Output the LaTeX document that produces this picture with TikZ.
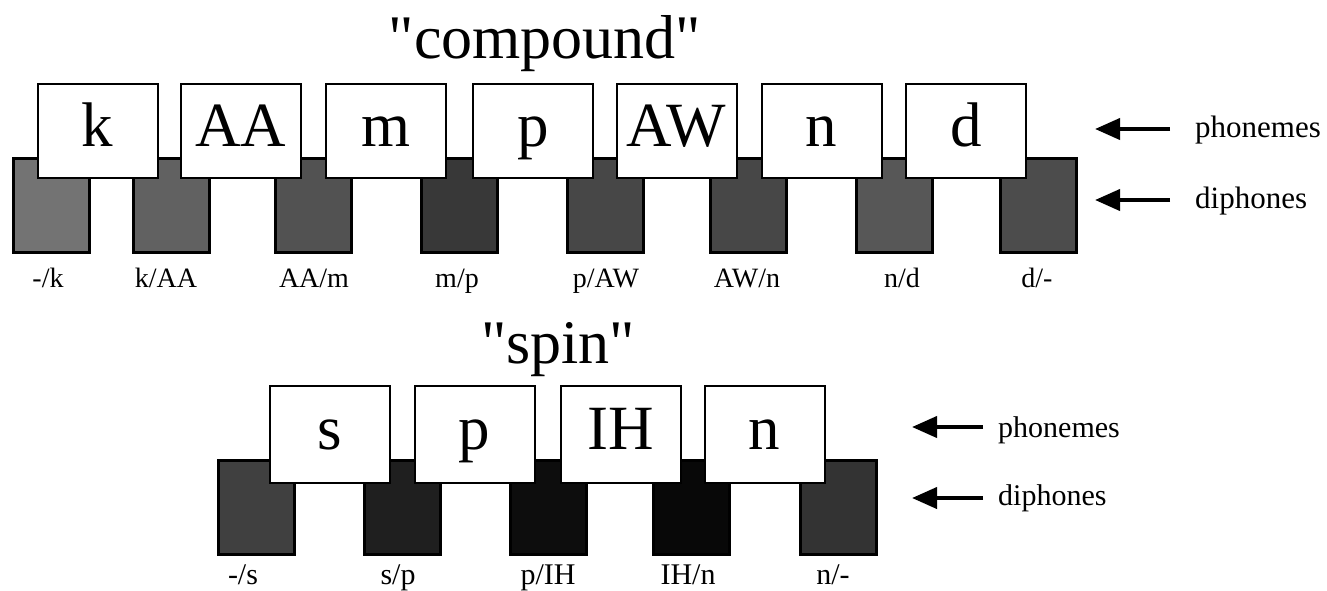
\documentclass[tikz,border=0pt]{standalone}
\usepackage{fontspec}
\setmainfont{Liberation Serif}[Ligatures=TeXOff]
\usetikzlibrary{arrows.meta}
\tikzset{
  phon/.style={draw=black, line width=2pt, fill=white, minimum width=120pt, minimum height=94pt,
    inner sep=0pt, font=\fontsize{63}{63}\selectfont, text height=43pt, text depth=12pt},
  diph/.style={draw=black, line width=3pt, minimum width=76pt, minimum height=94pt,
    inner sep=0pt, anchor=north west},
  title/.style={font=\fontsize{62}{62}\selectfont, anchor=base, inner sep=0pt},
  labtop/.style={font=\fontsize{28}{28}\selectfont, anchor=base, inner sep=0pt},
  labbot/.style={font=\fontsize{30}{30}\selectfont, anchor=base, inner sep=0pt},
  side/.style={font=\fontsize{31}{31}\selectfont, anchor=base west, inner sep=0pt},
  arr/.style={line width=4pt, -{Triangle[length=25pt,width=21pt]}}
}
\begin{document}
\begin{tikzpicture}[x=1pt,y=-1pt]
\useasboundingbox (0,0) rectangle (1327,590);

% ---------- "compound" ----------
\node[title] (t1) at (545,58) {"compound"};

\node[diph, fill=black!55] (d1) at (12,157) {};
\node[diph, fill=black!62] (d2) at (132,157) {};
\node[diph, fill=black!68] (d3) at (274,157) {};
\node[diph, fill=black!78] (d4) at (420,157) {};
\node[diph, fill=black!72] (d5) at (566,157) {};
\node[diph, fill=black!72] (d6) at (709,157) {};
\node[diph, fill=black!66] (d7) at (855,157) {};
\node[diph, fill=black!70] (d8) at (999,157) {};

\node[phon] (p1) at (97.5,131) {k};
\node[phon] (p2) at (241,131) {AA};
\node[phon] (p3) at (386,131) {m};
\node[phon] (p4) at (533,131) {p};
\node[phon] (p5) at (676.5,131) {AW};
\node[phon] (p6) at (821.5,131) {n};
\node[phon] (p7) at (966,131) {d};

\node[labtop] (l1) at (48,287) {-/k};
\node[labtop] (l2) at (166,287) {k/AA};
\node[labtop] (l3) at (314,287) {AA/m};
\node[labtop] (l4) at (457,287) {m/p};
\node[labtop] (l5) at (606,287) {p/AW};
\node[labtop] (l6) at (747,287) {AW/n};
\node[labtop] (l7) at (902,287) {n/d};
\node[labtop] (l8) at (1037,287) {d/-};

\node[side] (s1) at (1195,137) {phonemes};
\node[side] (s2) at (1195,208) {diphones};
\coordinate (a1) at (1095,129);
\coordinate (b1) at (1095,200);
\draw[arr] (s1.west |- a1) ++(-25,0) coordinate (a1t) -- (a1);
\draw[arr] (s2.west |- b1) ++(-25,0) coordinate (b1t) -- (b1);

% ---------- "spin" ----------
\node[title] (t2) at (558,363) {"spin"};

\node[diph, fill=black!75] (e1) at (217,459) {};
\node[diph, fill=black!88] (e2) at (363,459) {};
\node[diph, fill=black!95] (e3) at (509,459) {};
\node[diph, fill=black!97] (e4) at (652,459) {};
\node[diph, fill=black!80] (e5) at (799,459) {};

\node[phon, minimum height=97pt] (q1) at (330,434) {s};
\node[phon, minimum height=97pt] (q2) at (474.5,434) {p};
\node[phon, minimum height=97pt] (q3) at (621,434) {IH};
\node[phon, minimum height=97pt] (q4) at (764.5,434) {n};

\node[labbot] (m1) at (243,584) {-/s};
\node[labbot] (m2) at (398,584) {s/p};
\node[labbot] (m3) at (548,584) {p/IH};
\node[labbot] (m4) at (688,584) {IH/n};
\node[labbot] (m5) at (833,584) {n/-};

\node[side, font=\fontsize{30}{30}\selectfont] (s3) at (998,437) {phonemes};
\node[side, font=\fontsize{30}{30}\selectfont] (s4) at (998,505) {diphones};
\coordinate (c1) at (912,427);
\coordinate (c2) at (912,498);
\draw[arr] (s3.west |- c1) ++(-15,0) coordinate (c1t) -- (c1);
\draw[arr] (s4.west |- c2) ++(-15,0) coordinate (c2t) -- (c2);
\end{tikzpicture}
\end{document}
